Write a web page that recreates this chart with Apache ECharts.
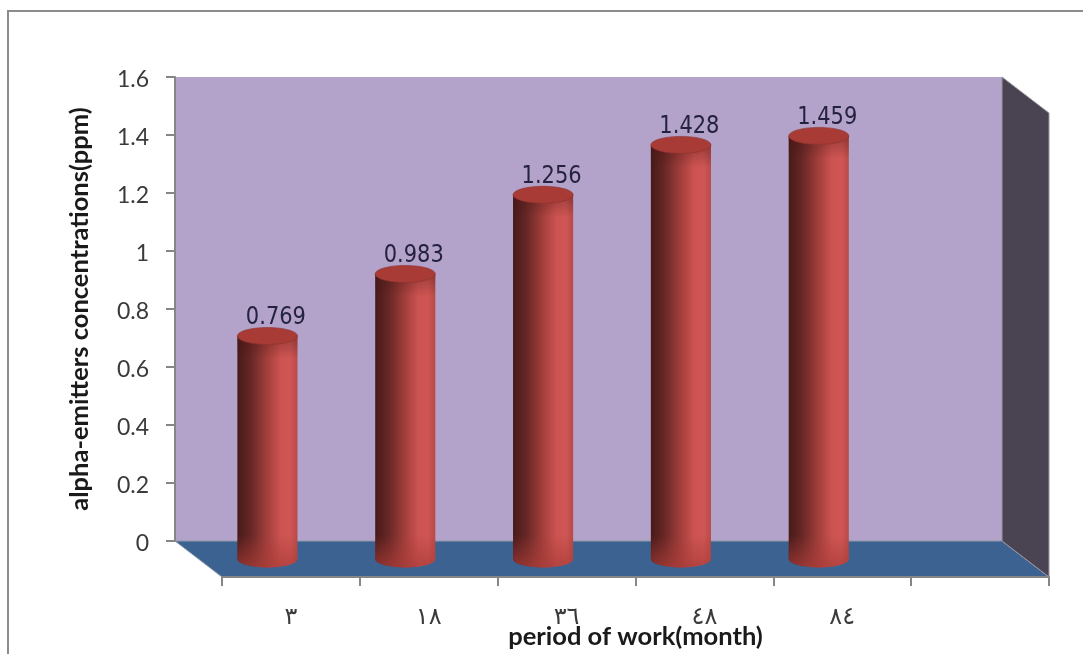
<!DOCTYPE html>
<html>
<head>
<meta charset="utf-8">
<style>html,body{margin:0;padding:0;background:#fff}#chart{width:1083px;height:654px}</style>
<script src="https://cdn.jsdelivr.net/npm/echarts@6/dist/echarts.min.js"></script>
</head>
<body>
<div id="chart"></div>
<script>
// Alpha-emitter concentration against period of work, drawn as 3D-style cylinders.
const categories = ['٣', '١٨', '٣٦', '٤٨', '٨٤', ''];
const concentrations = [0.769, 0.983, 1.256, 1.428, 1.459];
const yTicks = { min: 0, max: 1.6, interval: 0.2 };
const yTitle = 'alpha-emitters concentrations(ppm)';
const xTitle = 'period of work(month)';

// Back wall and front floor edge are two aligned grids; the gap between them is the box depth.
const backGrid = { left: 175, top: 77, width: 827, height: 464 };
const frontGrid = { left: 222, top: 113, width: 827, height: 464 };
const depthX = frontGrid.left - backGrid.left;
const depthY = frontGrid.top - backGrid.top;

const gray = '#868686';
const titleFont = 'Lato';

const chart = echarts.init(document.getElementById('chart'), null, { renderer: 'canvas' });

function renderBox(params) {
  const c = params.coordSys;
  const l = c.x, r = c.x + c.width, t = c.y, b = c.y + c.height;
  return {
    type: 'group',
    children: [
      { type: 'polygon', shape: { points: [[l, b], [r, b], [r + depthX, b + depthY], [l + depthX, b + depthY]] },
        style: { fill: '#3B6290', stroke: '#8d9aa8', lineWidth: 1 } },
      { type: 'polygon', shape: { points: [[r, t], [r + depthX, t + depthY], [r + depthX, b + depthY], [r, b]] },
        style: { fill: '#4A4351', stroke: '#9b97a3', lineWidth: 1 } }
    ]
  };
}

function renderCylinder(params, api) {
  const value = api.value(1);
  const top = api.coord([api.value(0), value]);
  const base = api.coord([api.value(0), 0]);
  const rx = api.size([1, 0])[0] * 0.218;
  const ry = 8.5;
  const cx = top[0] - depthX / 2;
  const topY = top[1] - depthY / 2;
  const baseY = base[1] - depthY / 2;
  const fadeY = baseY - 24;
  const side = new echarts.graphic.LinearGradient(0, 0, 1, 0, [
    { offset: 0, color: '#471a19' },
    { offset: 0.22, color: '#662725' },
    { offset: 0.5, color: '#a33f3c' },
    { offset: 0.72, color: '#cc5350' },
    { offset: 0.88, color: '#cf5654' },
    { offset: 1, color: '#b84a47' }
  ]);
  // Lighter reflected band towards the foot of the cylinder.
  const footGlow = new echarts.graphic.LinearGradient(0, 0, 0, 1, [
    { offset: 0, color: 'rgba(170,60,56,0)' },
    { offset: 1, color: 'rgba(170,60,56,0.72)' }
  ]);
  // Soft shadow thrown just under the cap.
  const capShade = new echarts.graphic.LinearGradient(0, 0, 0, 1, [
    { offset: 0, color: 'rgba(70,20,20,0.38)' },
    { offset: 1, color: 'rgba(70,20,20,0)' }
  ]);
  const bodyPath = 'M' + (cx - rx) + ' ' + topY + 'L' + (cx + rx) + ' ' + topY + 'L' + (cx + rx) + ' ' + baseY +
    'A' + rx + ' ' + ry + ' 0 0 1 ' + (cx - rx) + ' ' + baseY + 'Z';
  const footPath = 'M' + (cx - rx) + ' ' + fadeY + 'L' + (cx + rx) + ' ' + fadeY + 'L' + (cx + rx) + ' ' + baseY +
    'A' + rx + ' ' + ry + ' 0 0 1 ' + (cx - rx) + ' ' + baseY + 'Z';
  return {
    type: 'group',
    children: [
      { type: 'path', shape: { pathData: bodyPath, layout: 'cover', x: cx - rx, y: topY, width: rx * 2, height: baseY + ry - topY }, style: { fill: side } },
      { type: 'path', shape: { pathData: footPath, layout: 'cover', x: cx - rx, y: fadeY, width: rx * 2, height: baseY + ry - fadeY }, style: { fill: footGlow } },
      { type: 'rect', shape: { x: cx - rx, y: topY, width: rx * 2, height: ry + 14 }, style: { fill: capShade } },
      { type: 'ellipse', shape: { cx: cx, cy: topY, rx: rx, ry: ry }, style: { fill: '#a83b35', stroke: '#8a332e', lineWidth: 0.6 } },
      { type: 'text', x: cx + 8.5, y: topY - 18, scaleY: 1.15,
        style: { text: value.toFixed(3), x: 0, y: 0, align: 'center', verticalAlign: 'middle',
          font: '21px "DejaVu Sans"', fill: '#25223f' } }
    ]
  };
}

chart.setOption({
  animation: false,
  backgroundColor: '#fff',
  graphic: [
    { type: 'rect', shape: { x: 8, y: 11, width: 1200, height: 800 }, style: { fill: 'transparent', stroke: '#8c8c8c', lineWidth: 2 }, silent: true }
  ],
  grid: [
    Object.assign({ show: true, backgroundColor: '#B3A2C9', borderWidth: 0, outerBoundsMode: 'none' }, backGrid),
    Object.assign({ outerBoundsMode: 'none' }, frontGrid)
  ],
  xAxis: [
    { gridIndex: 0, type: 'category', data: categories, show: false },
    { gridIndex: 1, type: 'category', data: categories, position: 'bottom', z: 3,
      axisLine: { lineStyle: { color: gray, width: 2 } },
      axisTick: { show: true, alignWithLabel: false, length: 9, lineStyle: { color: gray, width: 2 } },
      axisLabel: { interval: 0, margin: 29, fontSize: 24, color: '#3a3a3a', fontFamily: 'DejaVu Sans' },
      name: xTitle, nameLocation: 'middle', nameGap: 47, nameMoveOverlap: false,
      nameTextStyle: { fontSize: 25.5, fontWeight: 'bold', color: '#1a1a1a', fontFamily: titleFont }
    }
  ],
  yAxis: [
    { gridIndex: 0, type: 'value', min: yTicks.min, max: yTicks.max, interval: yTicks.interval, z: 3,
      axisLine: { show: true, lineStyle: { color: gray, width: 2 } },
      axisTick: { show: true, length: 9, lineStyle: { color: gray, width: 2 } },
      splitLine: { show: false },
      axisLabel: { margin: 26, formatter: '{t|{value}}',
        rich: { t: { fontSize: 23, color: '#3a3a3a', fontFamily: titleFont, padding: [6, 0, 0, 0] } } },
      name: yTitle, nameLocation: 'middle', nameGap: 82, nameRotate: 90, nameMoveOverlap: false,
      nameTextStyle: { fontSize: 25.5, fontWeight: 'bold', color: '#1a1a1a', fontFamily: titleFont }
    },
    { gridIndex: 1, type: 'value', min: yTicks.min, max: yTicks.max, interval: yTicks.interval, show: false, splitLine: { show: false } }
  ],
  series: [
    { type: 'custom', xAxisIndex: 0, yAxisIndex: 0, renderItem: renderBox, data: [[0, 0]], silent: true, z: 1, clip: false },
    { type: 'custom', xAxisIndex: 1, yAxisIndex: 1, renderItem: renderCylinder, clip: false, z: 5,
      encode: { x: 0, y: 1 },
      data: concentrations.map(function (v, i) { return [i, v]; }) }
  ]
});
</script>
</body>
</html>
